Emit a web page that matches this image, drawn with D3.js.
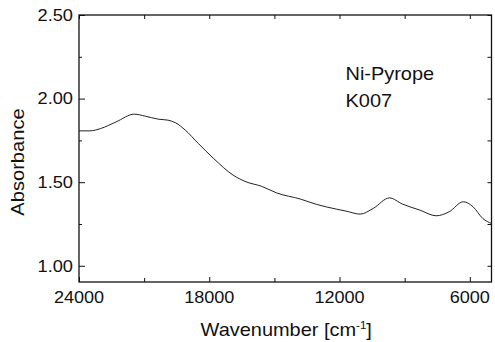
<!DOCTYPE html>
<html>
<head>
<meta charset="utf-8">
<script src="https://cdn.jsdelivr.net/npm/d3@7"></script>
<style>
	body { margin: 0; background: #fff; }
	svg text { font-family: 'Liberation Sans', Arial, Helvetica, sans-serif; fill: #111; }
</style>
</head>
<body>
<div id="chart"></div>
<script>
// spectrum (wavenumber in cm-1, absorbance)
var wavenumbers = [24000, 23500, 23000, 22300, 21450, 20950, 20350, 19900, 19550, 19100,
                   18500, 17800, 16900, 16300, 15600, 14900, 13800, 13050, 12600, 12150,
                   11700, 11050, 10450, 9700, 9100, 8300, 7550, 6950, 6300, 5850, 5400, 5000];
var absorbance = [1.807, 1.807, 1.821, 1.860, 1.907, 1.895, 1.877, 1.871, 1.855, 1.811,
                  1.731, 1.642, 1.542, 1.502, 1.476, 1.436, 1.399, 1.367, 1.352, 1.339,
                  1.327, 1.309, 1.343, 1.406, 1.369, 1.333, 1.299, 1.323, 1.383, 1.353, 1.283, 1.253];
var xTicks = [24000, 18000, 12000, 6000];
var xMinorTicks = [21000, 15000, 9000];
var yTicks = [1.00, 1.50, 2.00, 2.50];
var yMinorTicks = [1.25, 1.75, 2.25];
var sampleLabel = ['Ni-Pyrope', 'K007'];

(function(d3) {
	'use strict';

	var width = 495;
	var height = 342;
	var margin = {top: 15, right: 3.5, bottom: 60, left: 79};
	var w = width - margin.left - margin.right;
	var h = height - margin.top - margin.bottom;

	var svg = d3.select('#chart')
		.append('svg')
		.attr('width', width)
		.attr('height', height)
		.append('g')
		.attr('transform', 'translate(' + margin.left + ',' + margin.top + ')');

	var x = d3.scaleLinear().domain([24000, 5000]).range([0, w]);
	var y = d3.scaleLinear().domain([0.903, 2.5]).range([h, 0]);

	var dataset = wavenumbers.map(function(d, i) {
		return {wn: d, abs: absorbance[i]};
	});

	// ticks point inward on all four sides
	function tickAxis(axis, ticks, size) {
		return axis.tickValues(ticks).tickSizeInner(size).tickSizeOuter(0).tickFormat('');
	}

	svg.append('g').attr('transform', 'translate(0,' + h + ')')
		.call(tickAxis(d3.axisBottom(x), xTicks, -5));
	svg.append('g').attr('transform', 'translate(0,' + h + ')')
		.call(tickAxis(d3.axisBottom(x), xMinorTicks, -4));
	svg.append('g')
		.call(tickAxis(d3.axisTop(x), xTicks.concat(xMinorTicks), -4));
	svg.append('g')
		.call(tickAxis(d3.axisLeft(y), yTicks, -6));
	svg.append('g')
		.call(tickAxis(d3.axisLeft(y), yMinorTicks, -3));
	svg.append('g').attr('transform', 'translate(' + w + ',0)')
		.call(tickAxis(d3.axisRight(y), yTicks.concat(yMinorTicks), -4));

	svg.selectAll('.domain').remove();
	svg.selectAll('.tick line').attr('stroke', '#111').attr('stroke-width', 1);

	// frame
	svg.append('rect')
		.attr('x', 0).attr('y', 0)
		.attr('width', w).attr('height', h)
		.attr('fill', 'none')
		.attr('stroke', '#111')
		.attr('stroke-width', 1.3);

	// tick labels, font is a bit wider than Liberation Sans
	svg.selectAll('.xlab')
		.data(xTicks)
		.enter()
		.append('text')
		.attr('class', 'xlab')
		.attr('transform', function(d) { return 'translate(' + x(d) + ',' + (h + 21) + ') scale(1.13,1)'; })
		.attr('text-anchor', 'middle')
		.style('font-size', '16px')
		.text(function(d) { return d; });

	svg.selectAll('.ylab')
		.data(yTicks)
		.enter()
		.append('text')
		.attr('class', 'ylab')
		.attr('transform', function(d) { return 'translate(-6,' + y(d) + ') scale(1.14,1)'; })
		.attr('text-anchor', 'end')
		.attr('dy', '0.36em')
		.style('font-size', '16px')
		.text(function(d) { return d.toFixed(2); });

	var line = d3.line()
		.x(function(d) { return x(d.wn); })
		.y(function(d) { return y(d.abs); })
		.curve(d3.curveMonotoneX);

	svg.append('path')
		.datum(dataset)
		.attr('d', line)
		.attr('fill', 'none')
		.attr('stroke', '#222')
		.attr('stroke-width', 1);

	// axis titles
	svg.append('text')
		.attr('transform', 'translate(' + (24 - margin.left) + ',' + (162 - margin.top) + ') rotate(-90) scale(1.15,1)')
		.attr('text-anchor', 'middle')
		.style('font-size', '17.5px')
		.text('Absorbance');

	var xTitle = svg.append('text')
		.attr('transform', 'translate(' + (w / 2 + 1) + ',' + (h + 54) + ') scale(1.05,1)')
		.attr('text-anchor', 'middle')
		.style('font-size', '19px');
	xTitle.append('tspan').text('Wavenumber [cm');
	xTitle.append('tspan').attr('dy', -7).style('font-size', '11px').text('-1');
	xTitle.append('tspan').attr('dy', 7).text(']');

	svg.selectAll('.note')
		.data(sampleLabel)
		.enter()
		.append('text')
		.attr('class', 'note')
		.attr('transform', function(d, i) { return 'translate(' + (345.5 - margin.left) + ',' + (79.5 + i * 27 - margin.top) + ') scale(1.05,1)'; })
		.style('font-size', '19px')
		.text(function(d) { return d; });

})(window.d3);
</script>
</body>
</html>
